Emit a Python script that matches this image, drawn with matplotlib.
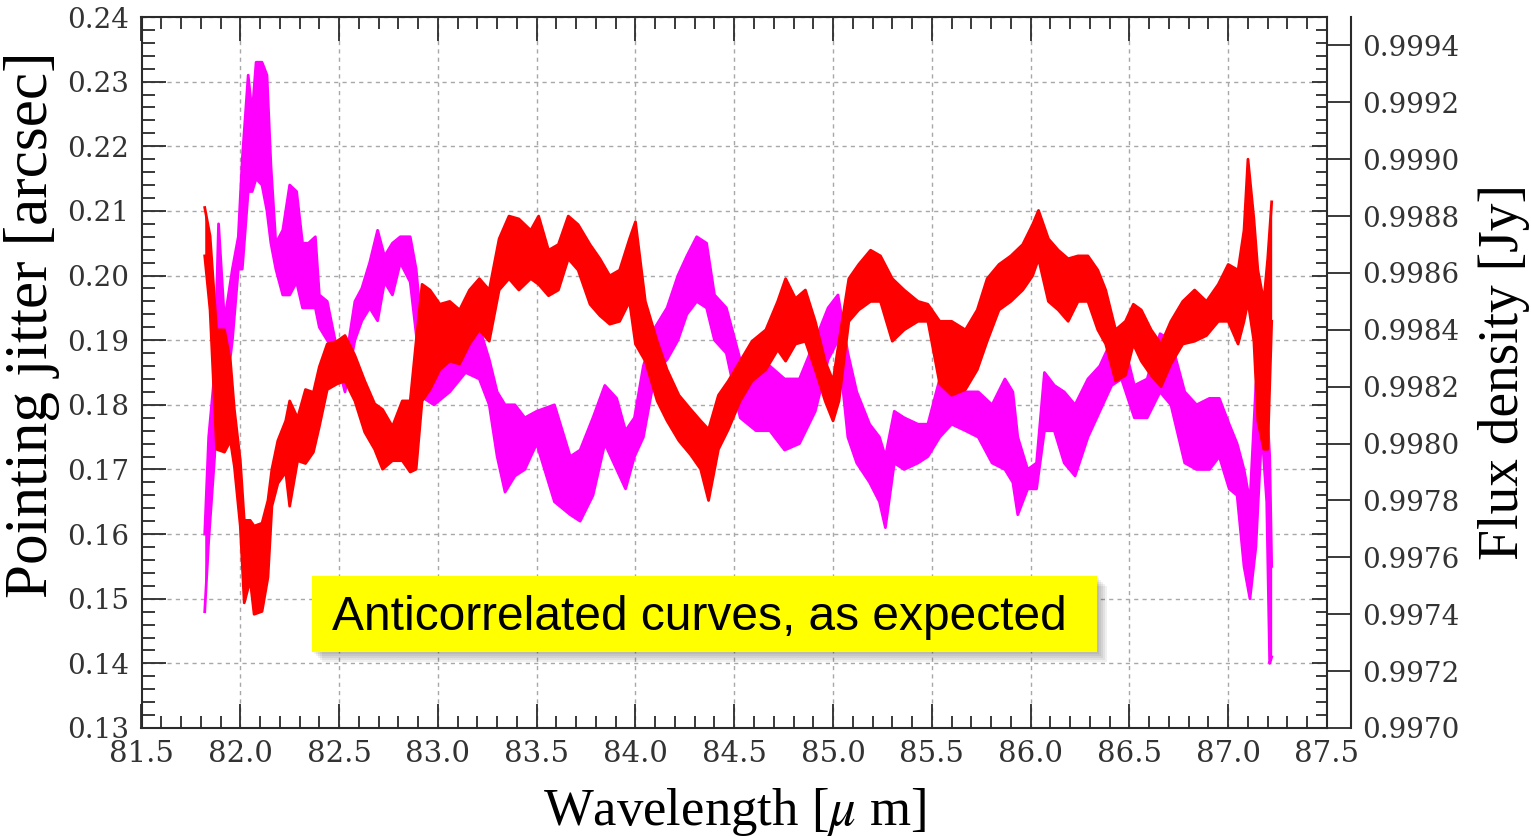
import matplotlib
matplotlib.use("Agg")
import matplotlib.pyplot as plt
import numpy as np
from matplotlib.ticker import MultipleLocator, FormatStrFormatter, FixedLocator
from matplotlib.patches import Rectangle

plt.rcParams['mathtext.fontset'] = 'stix'

# ---------------- data ----------------
jitter_x = [81.82, 81.84, 81.87, 81.89, 81.92, 81.96, 81.99, 82.01, 82.04, 82.06, 82.08, 82.11,
            82.135, 82.155, 82.18, 82.215, 82.25, 82.285, 82.315, 82.345, 82.38, 82.40, 82.44, 82.48,
            82.53, 82.58, 82.615, 82.655, 82.695, 82.73, 82.77, 82.81, 82.86, 82.89, 82.93, 82.98,
            83.06, 83.14, 83.21, 83.26, 83.30, 83.34, 83.39, 83.44, 83.50, 83.59, 83.67, 83.72,
            83.785, 83.845, 83.905, 83.95, 83.995, 84.04, 84.10, 84.16, 84.215, 84.26, 84.31, 84.36,
            84.40, 84.46, 84.53, 84.61, 84.68, 84.755, 84.83, 84.91, 84.975, 85.025, 85.075, 85.12,
            85.185, 85.235, 85.265, 85.31, 85.36, 85.43, 85.48, 85.54, 85.60, 85.67, 85.735, 85.805,
            85.87, 85.91, 85.935, 85.985, 86.03, 86.07, 86.12, 86.17, 86.225, 86.29, 86.35, 86.41,
            86.46, 86.525, 86.59, 86.655, 86.71, 86.78, 86.84, 86.905, 86.955, 87.005, 87.045, 87.08,
            87.11, 87.14, 87.17, 87.195, 87.21, 87.22]
jitter_lo = [0.148, 0.159, 0.172, 0.190, 0.180, 0.190, 0.201, 0.201, 0.213, 0.213, 0.215, 0.214,
             0.210, 0.205, 0.201, 0.197, 0.197, 0.199, 0.195, 0.195, 0.195, 0.192, 0.190, 0.188,
             0.182, 0.190, 0.193, 0.195, 0.193, 0.199, 0.197, 0.202, 0.199, 0.191, 0.181, 0.180,
             0.182, 0.185, 0.184, 0.180, 0.172, 0.1665, 0.169, 0.170, 0.174, 0.165, 0.163, 0.162,
             0.166, 0.174, 0.170, 0.167, 0.172, 0.175, 0.185, 0.187, 0.190, 0.194, 0.196, 0.195,
             0.190, 0.188, 0.178, 0.176, 0.176, 0.173, 0.174, 0.179, 0.187, 0.190, 0.175, 0.171,
             0.168, 0.165, 0.161, 0.171, 0.170, 0.171, 0.172, 0.175, 0.177, 0.176, 0.175, 0.171,
             0.170, 0.168, 0.163, 0.167, 0.167, 0.176, 0.176, 0.171, 0.169, 0.175, 0.179, 0.183,
             0.184, 0.178, 0.178, 0.182, 0.180, 0.171, 0.170, 0.170, 0.172, 0.167, 0.166, 0.155,
             0.150, 0.158, 0.176, 0.165, 0.140, 0.141]
jitter_hi = [0.160, 0.175, 0.185, 0.208, 0.193, 0.201, 0.206, 0.218, 0.231, 0.225, 0.233, 0.233,
             0.231, 0.217, 0.205, 0.207, 0.214, 0.213, 0.205, 0.205, 0.206, 0.197, 0.196, 0.190,
             0.186, 0.196, 0.198, 0.202, 0.207, 0.203, 0.205, 0.206, 0.206, 0.201, 0.188, 0.188,
             0.189, 0.194, 0.192, 0.187, 0.182, 0.180, 0.180, 0.178, 0.179, 0.180, 0.172, 0.173,
             0.178, 0.183, 0.181, 0.176, 0.178, 0.186, 0.192, 0.195, 0.200, 0.203, 0.206, 0.205,
             0.197, 0.195, 0.187, 0.186, 0.186, 0.184, 0.184, 0.190, 0.195, 0.197, 0.188, 0.182,
             0.177, 0.175, 0.172, 0.179, 0.178, 0.177, 0.177, 0.184, 0.183, 0.182, 0.182, 0.180,
             0.184, 0.182, 0.175, 0.170, 0.171, 0.185, 0.183, 0.182, 0.180, 0.184, 0.186, 0.190,
             0.191, 0.183, 0.184, 0.191, 0.190, 0.182, 0.180, 0.181, 0.181, 0.177, 0.174, 0.170,
             0.165, 0.183, 0.190, 0.180, 0.172, 0.155]

flux_x = [81.82, 81.847, 81.88, 81.92, 81.95, 81.97, 82.00, 82.02, 82.05, 82.07, 82.11, 82.14,
          82.16, 82.19, 82.23, 82.25, 82.29, 82.33, 82.37, 82.40, 82.44, 82.49, 82.53, 82.58,
          82.63, 82.68, 82.72, 82.77, 82.82, 82.86, 82.89, 82.92, 82.96, 83.01, 83.06, 83.11,
          83.16, 83.21, 83.26, 83.31, 83.36, 83.41, 83.47, 83.51, 83.56, 83.61, 83.66, 83.71,
          83.77, 83.82, 83.87, 83.92, 83.97, 84.00, 84.05, 84.11, 84.16, 84.22, 84.28, 84.33,
          84.37, 84.42, 84.47, 84.53, 84.59, 84.66, 84.72, 84.76, 84.81, 84.86, 84.91, 84.96,
          85.00, 85.03, 85.08, 85.13, 85.19, 85.24, 85.30, 85.36, 85.43, 85.48, 85.54, 85.60,
          85.67, 85.73, 85.78, 85.84, 85.90, 85.96, 86.01, 86.04, 86.09, 86.14, 86.19, 86.24,
          86.29, 86.34, 86.38, 86.43, 86.48, 86.52, 86.56, 86.61, 86.66, 86.71, 86.77, 86.83,
          86.89, 86.95, 87.00, 87.05, 87.08, 87.10, 87.13, 87.15, 87.18, 87.20, 87.22]
flux_lo = [0.99866, 0.99847, 0.99798, 0.99797, 0.99801, 0.99792, 0.99771, 0.99744, 0.99752, 0.99740,
           0.99741, 0.99753, 0.99778, 0.99786, 0.99790, 0.99778, 0.99794, 0.99793, 0.99797, 0.99806,
           0.99819, 0.99821, 0.99822, 0.99815, 0.99804, 0.99798, 0.99791, 0.99794, 0.99794, 0.99790,
           0.99791, 0.99815, 0.99819, 0.99826, 0.99829, 0.99828, 0.99835, 0.99840, 0.99836, 0.99854,
           0.99858, 0.99854, 0.99858, 0.99856, 0.99852, 0.99854, 0.99865, 0.99861, 0.99849, 0.99845,
           0.99842, 0.99843, 0.99850, 0.99835, 0.99829, 0.99815, 0.99808, 0.99801, 0.99796, 0.99791,
           0.99780, 0.99798, 0.99805, 0.99815, 0.99822, 0.99826, 0.99833, 0.99829, 0.99835, 0.99836,
           0.99826, 0.99815, 0.99808, 0.99815, 0.99843, 0.99847, 0.99850, 0.99850, 0.99836, 0.99840,
           0.99843, 0.99843, 0.99821, 0.99817, 0.99819, 0.99826, 0.99836, 0.99847, 0.99850, 0.99854,
           0.99859, 0.99865, 0.99850, 0.99847, 0.99843, 0.99850, 0.99850, 0.99840, 0.99835, 0.99822,
           0.99824, 0.99835, 0.99829, 0.99824, 0.99820, 0.99828, 0.99835, 0.99836, 0.99838, 0.99843,
           0.99843, 0.99835, 0.99843, 0.99850, 0.99836, 0.99808, 0.99798, 0.99798, 0.99843]
flux_hi = [0.99883, 0.99873, 0.99840, 0.99840, 0.99829, 0.99812, 0.99794, 0.99773, 0.99773, 0.99771,
           0.99772, 0.99780, 0.99791, 0.99801, 0.99808, 0.99815, 0.99809, 0.99819, 0.99818, 0.99827,
           0.99835, 0.99836, 0.99838, 0.99831, 0.99822, 0.99814, 0.99812, 0.99806, 0.99815, 0.99815,
           0.99836, 0.99856, 0.99854, 0.99849, 0.99850, 0.99847, 0.99854, 0.99858, 0.99854, 0.99872,
           0.99880, 0.99879, 0.99875, 0.99880, 0.99868, 0.99870, 0.99880, 0.99877, 0.99870, 0.99865,
           0.99859, 0.99861, 0.99872, 0.99878, 0.99850, 0.99836, 0.99826, 0.99817, 0.99812, 0.99808,
           0.99805, 0.99817, 0.99822, 0.99829, 0.99836, 0.99840, 0.99850, 0.99858, 0.99851, 0.99854,
           0.99843, 0.99829, 0.99822, 0.99836, 0.99858, 0.99863, 0.99868, 0.99866, 0.99858, 0.99854,
           0.99850, 0.99849, 0.99843, 0.99843, 0.99840, 0.99847, 0.99858, 0.99863, 0.99866, 0.99870,
           0.99877, 0.99882, 0.99872, 0.99868, 0.99865, 0.99866, 0.99866, 0.99861, 0.99854, 0.99840,
           0.99843, 0.99849, 0.99847, 0.99840, 0.99835, 0.99843, 0.99850, 0.99854, 0.99850, 0.99856,
           0.99863, 0.99861, 0.99875, 0.99900, 0.99879, 0.99861, 0.99850, 0.99865, 0.99885]

x_label = "Wavelength [$\\mu$ m]"
y_left_label = "Pointing jitter [arcsec]"
y_right_label = "Flux density [Jy]"
note_text = "Anticorrelated curves, as expected"

# ---------------- figure ----------------
W, H = 1531, 836
PT = 72 / 100  # points per pixel
fig = plt.figure(figsize=(W / 100, H / 100), dpi=100)
L, R, T, B = 141.5, 1327, 17, 728
ax = fig.add_axes([L / W, 1 - B / H, (R - L) / W, (B - T) / H])

spine_col = '#2a2a2a'
tick_family = 'DejaVu Serif'
label_family = 'Liberation Serif'

ax.fill_between(jitter_x, jitter_lo, jitter_hi, color='#ff00ff', lw=0, zorder=2)
ax.plot(jitter_x, jitter_lo, color='#ff00ff', lw=2.0, zorder=2)
ax.plot(jitter_x, jitter_hi, color='#ff00ff', lw=2.0, zorder=2)

ax.set_xlim(81.5, 87.5)
ax.set_ylim(0.13, 0.24)
ax.xaxis.set_major_locator(MultipleLocator(0.5))
ax.xaxis.set_minor_locator(MultipleLocator(0.1))
ax.yaxis.set_major_locator(MultipleLocator(0.01))
ax.yaxis.set_minor_locator(MultipleLocator(0.002))
ax.xaxis.set_major_formatter(FormatStrFormatter('%.1f'))
ax.yaxis.set_major_formatter(FormatStrFormatter('%.2f'))
ax.grid(True, which='major', color='#a8a8a8', linestyle=(0, (3, 3)), lw=1.0)
ax.set_axisbelow(True)
ax.tick_params(axis='x', which='both', direction='in', top=True, bottom=True,
               color=spine_col, width=1.3, pad=9, labelcolor='#333333')
ax.tick_params(axis='x', which='major', length=24 * PT)
ax.tick_params(axis='x', which='minor', length=12 * PT)
ax.tick_params(axis='y', which='both', direction='in', left=True, right=False,
               color=spine_col, width=1.3, pad=9, labelcolor='#333333')
ax.tick_params(axis='y', which='major', length=24 * PT)
ax.tick_params(axis='y', which='minor', length=13 * PT)
for lab in ax.get_xticklabels():
    lab.set_fontfamily(tick_family)
    lab.set_fontsize(21)
for lab in ax.get_yticklabels():
    lab.set_fontfamily(tick_family)
    lab.set_fontsize(20)
for s in ax.spines.values():
    s.set_color(spine_col)
    s.set_linewidth(1.5)

ax.set_xlabel(x_label, family=label_family, size=38)
ax.xaxis.set_label_coords(0.5, -0.082)
ax.set_ylabel(y_left_label, family=label_family, size=44)
ax.yaxis.set_label_coords(-0.069, 0.567)

# mirrored left-axis ticks on the right edge of the frame
ax3 = ax.twinx()
ax3.set_ylim(ax.get_ylim())
ax3.yaxis.set_major_locator(MultipleLocator(0.01))
ax3.yaxis.set_minor_locator(MultipleLocator(0.002))
ax3.tick_params(axis='y', which='both', direction='in', labelright=False, color=spine_col, width=1.3)
ax3.tick_params(axis='y', which='major', length=15 * PT)
ax3.tick_params(axis='y', which='minor', length=11 * PT)
for s in ax3.spines.values():
    s.set_visible(False)

# right axis: flux density
ax2 = ax.twinx()
ax2.fill_between(flux_x, flux_lo, flux_hi, color='#ff0000', lw=0, zorder=3)
ax2.plot(flux_x, flux_lo, color='#ff0000', lw=2.0, zorder=3)
ax2.plot(flux_x, flux_hi, color='#ff0000', lw=2.0, zorder=3)
ax2.set_ylim(0.9970, 0.99950)
ax2.yaxis.set_major_locator(FixedLocator(np.round(np.arange(0.9970, 0.99941, 0.0002), 4)))
ax2.yaxis.set_major_formatter(FormatStrFormatter('%.4f'))
ax2.spines['right'].set_position(('outward', 24 * PT))
ax2.spines['right'].set_color(spine_col)
ax2.spines['right'].set_linewidth(1.5)
for k in ['left', 'top', 'bottom']:
    ax2.spines[k].set_visible(False)
ax2.tick_params(axis='y', which='major', direction='in', length=24 * PT, width=1.3,
                color=spine_col, pad=8, labelcolor='#333333')
for lab in ax2.get_yticklabels():
    lab.set_fontfamily(tick_family)
    lab.set_fontsize(20)
ax2.set_ylabel(y_right_label, family=label_family, size=40)
ax2.yaxis.set_label_coords(1.127, 0.5)

# annotation box with soft shadow
bx0, bx1, by0, by1 = 312, 1097, 576, 652
for i in range(5):
    off = 2 + 2 * i
    fig.patches.append(Rectangle(((bx0 + off) / W, 1 - (by1 + off) / H), (bx1 - bx0) / W, (by1 - by0) / H,
                                 transform=fig.transFigure, facecolor='#000000', alpha=0.06,
                                 edgecolor='none', zorder=9))
fig.patches.append(Rectangle((bx0 / W, 1 - by1 / H), (bx1 - bx0) / W, (by1 - by0) / H,
                             transform=fig.transFigure, facecolor='#ffff00', edgecolor='none', zorder=10))
fig.text(332 / W, 1 - 618 / H, note_text, family='Liberation Sans', size=34.5,
         color='black', ha='left', va='center', zorder=11)

fig.savefig('out.png', dpi=100)
